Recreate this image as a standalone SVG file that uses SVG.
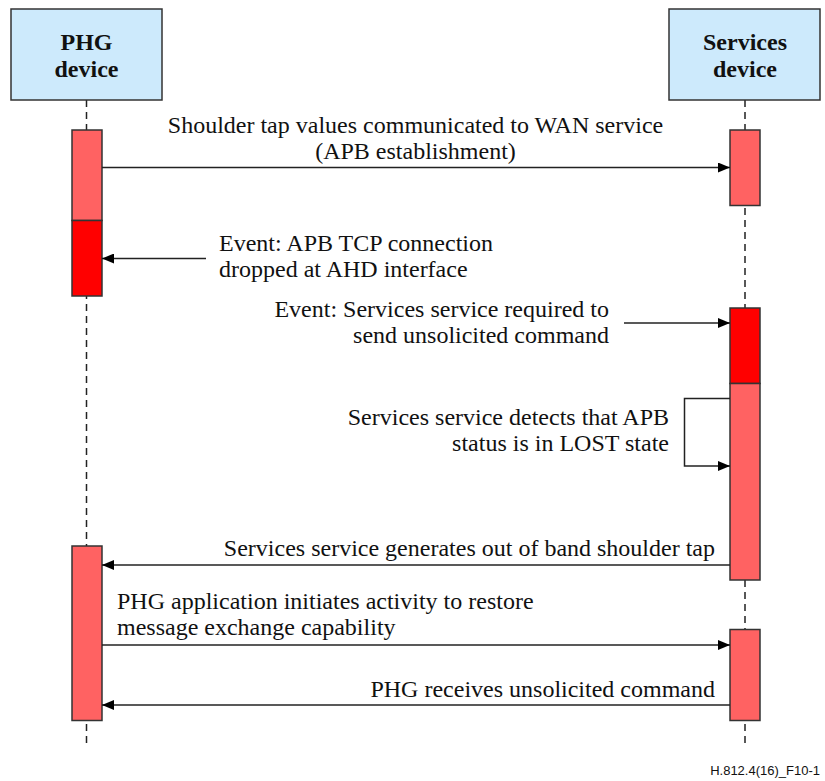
<svg xmlns="http://www.w3.org/2000/svg" width="825" height="781" viewBox="0 0 825 781">
<defs>
<style>
.hdr{fill:#cdeafc;stroke:#333;stroke-width:1.5}
.ht{font-family:"Liberation Serif",serif;font-weight:bold;font-size:24px;fill:#111;text-anchor:middle}
.life{stroke:#222;stroke-width:1.5;stroke-dasharray:7,5;fill:none}
.act{fill:#ff6262;stroke:#333;stroke-width:1.5}
.actd{fill:#ff0000;stroke:#333;stroke-width:1.5}
.msg{stroke:#222;stroke-width:1.5;fill:none}
.t{font-family:"Liberation Serif",serif;font-size:24px;fill:#111}
.r{text-anchor:end}
.m{text-anchor:middle}
.fn{font-family:"Liberation Sans",sans-serif;font-size:13px;fill:#111}
</style>
<marker id="ah" viewBox="0 0 12 10" refX="12" refY="5" markerWidth="12" markerHeight="10" markerUnits="userSpaceOnUse" orient="auto">
<path d="M0,0 L12,5 L0,10 z" fill="#000"/>
</marker>
</defs>
<rect width="825" height="781" fill="#fff"/>
<g id="lifelines">
<line class="life" x1="86.5" y1="100" x2="86.5" y2="748"/>
<line class="life" x1="745" y1="100" x2="745" y2="748"/>
</g>
<g id="phg">
<rect class="hdr" x="11" y="9" width="151" height="91"/>
<text class="ht" x="86.5" y="50">PHG</text>
<text class="ht" x="86.5" y="77">device</text>
</g>
<g id="services">
<rect class="hdr" x="669" y="9" width="151" height="91"/>
<text class="ht" x="745" y="50">Services</text>
<text class="ht" x="745" y="77">device</text>
</g>
<g id="activations">
<rect class="act" x="72" y="130" width="30" height="90.5"/>
<rect class="actd" x="72" y="220.5" width="30" height="75.5"/>
<rect class="act" x="730" y="130" width="30" height="75.5"/>
<rect class="actd" x="730" y="308" width="30" height="75.5"/>
<rect class="act" x="730" y="383.5" width="30" height="196.5"/>
<rect class="act" x="72" y="546" width="30" height="174.5"/>
<rect class="act" x="730" y="629.5" width="30" height="91"/>
</g>
<g id="connectors">
<line class="msg" x1="102" y1="167.5" x2="730" y2="167.5" marker-end="url(#ah)"/>
<line class="msg" x1="206" y1="258.5" x2="102" y2="258.5" marker-end="url(#ah)"/>
<line class="msg" x1="624" y1="323" x2="730" y2="323" marker-end="url(#ah)"/>
<polyline class="msg" points="730,398.5 684.5,398.5 684.5,466 730,466" marker-end="url(#ah)"/>
<line class="msg" x1="730" y1="565" x2="102" y2="565" marker-end="url(#ah)"/>
<line class="msg" x1="102" y1="645" x2="730" y2="645" marker-end="url(#ah)"/>
<line class="msg" x1="730" y1="705" x2="102" y2="705" marker-end="url(#ah)"/>
</g>
<g id="labels">
<text class="t m" x="415.5" y="133">Shoulder tap values communicated to WAN service</text>
<text class="t m" x="415.5" y="159">(APB establishment)</text>
<text class="t" x="219" y="251">Event: APB TCP connection</text>
<text class="t" x="219" y="277">dropped at AHD interface</text>
<text class="t r" x="609" y="317">Event: Services service required to</text>
<text class="t r" x="609" y="343">send unsolicited command</text>
<text class="t r" x="669" y="425">Services service detects that APB</text>
<text class="t r" x="669" y="451">status is in LOST state</text>
<text class="t r" x="715" y="556">Services service generates out of band shoulder tap</text>
<text class="t" x="117" y="609">PHG application initiates activity to restore</text>
<text class="t" x="117" y="635">message exchange capability</text>
<text class="t r" x="715" y="697">PHG receives unsolicited command</text>
<text class="fn" x="820" y="775" text-anchor="end">H.812.4(16)_F10-1</text>
</g>
</svg>
